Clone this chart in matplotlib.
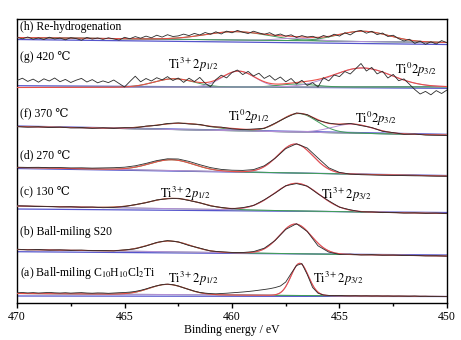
"""Stacked Ti 2p XPS spectra with fitted components."""

import numpy as np
import matplotlib

matplotlib.use("Agg")
import matplotlib.pyplot as plt


# Binding-energy grids the raw curves were read on (eV, high -> low)
energy_fine = np.linspace(470, 450, 81)     # 0.25 eV steps
energy_coarse = np.linspace(470, 450, 41)   # 0.5 eV steps

# Raw counts (offset intensity, arbitrary units), one row = 2 eV (fine) / 5 eV (coarse)
raw_a = [
    10.2, 10.5, 10.1, 10.4, 10.0, 10.3, 10.6, 10.2,
    10.0, 10.3, 9.9, 10.2, 10.4, 10.0, 9.8, 10.1,
    10.0, 9.7, 10.0, 10.3, 10.5, 10.9, 11.6, 12.7,
    14.1, 15.8, 17.2, 18.4, 18.9, 18.3, 17.0, 15.2,
    13.5, 11.9, 10.6, 9.9, 9.4, 9.2, 9.5, 9.8,
    10.2, 10.6, 11.0, 11.5, 12.1, 12.8, 13.5, 14.3,
    15.4, 17.0, 21.0, 29.5, 37.5, 39.4, 28.5, 15.5,
    9.8, 8.0, 7.6, 7.4, 7.5, 7.3, 7.2, 7.3,
    7.1, 7.2, 7.0, 7.1, 6.9, 7.0, 6.8, 6.9,
    6.8, 6.7, 6.9, 6.6, 6.7, 6.5, 6.6, 6.5,
    6.5,
]
raw_b = [
    53.8, 53.2, 53.5, 52.9, 53.1, 52.6, 52.9, 52.4, 52.5, 52.2,
    53.1, 54.2, 57.0, 60.6, 62.4, 61.1, 57.5, 54.9, 52.0, 51.2,
    50.6, 50.5, 51.4, 54.8, 62.4, 73.6, 79.3, 71.5, 57.2, 50.9,
    48.6, 48.9, 48.1, 48.4, 47.8, 47.9, 47.5, 47.6, 47.2, 47.3,
    46.9,
]
raw_c = [
    97.2, 96.9, 96.4, 96.6, 96.1, 96.3, 95.7, 95.9, 95.3, 95.6,
    96.5, 98.4, 100.3, 103.1, 104.2, 104.7, 102.5, 100.3, 97.1, 95.6,
    94.3, 95.4, 97.5, 103.2, 109.8, 117.3, 119.4, 116.9, 109.1, 102.2,
    95.8, 93.2, 91.2, 91.1, 90.4, 90.6, 90.0, 90.2, 89.7, 89.9,
    89.4,
]
raw_d = [
    135.8, 135.6, 135.7, 135.3, 135.4, 135.1, 135.2, 134.9, 135.1, 135.3,
    135.8, 137.2, 139.6, 142.4, 144.2, 144.0, 141.6, 138.3, 135.4, 133.6,
    132.8, 132.6, 133.4, 137.2, 144.6, 154.4, 159.2, 155.0, 145.0, 135.2,
    130.6, 128.9, 128.3, 128.0, 127.8, 127.6, 127.4, 127.2, 127.1, 126.9,
    126.8,
]
raw_f = [
    176.4, 175.9, 176.3, 175.5, 175.8, 175.1, 175.5, 174.7, 175.2, 174.6,
    175.3, 175.2, 176.9, 177.6, 179.5, 180.1, 179.0, 178.6, 176.3, 175.9,
    174.2, 173.4, 174.0, 174.6, 179.8, 185.2, 190.1, 188.4, 182.6, 179.9,
    178.5, 179.6, 177.4, 175.5, 171.7, 170.4, 168.7, 168.9, 168.0, 167.8,
    167.6,
]
raw_g = [
    222.5, 224.8, 221.6, 223.9, 220.8, 224.2, 222.0, 225.0,
    221.3, 223.6, 220.5, 222.8, 224.6, 221.0, 223.4, 220.2,
    222.1, 220.4, 223.0, 219.5, 216.0, 221.5, 226.8, 221.2,
    224.5, 222.0, 225.3, 223.1, 226.4, 222.5, 225.0, 220.6,
    224.8, 221.4, 225.6, 219.8, 216.2, 223.4, 227.8, 225.1,
    230.5, 233.0, 228.4, 231.6, 227.0, 229.8, 224.6, 227.5,
    222.8, 226.0, 221.2, 224.5, 219.0, 222.7, 217.5, 220.4,
    216.0, 225.3, 222.1, 228.0, 226.4, 231.5, 229.0, 234.2,
    239.5, 232.0, 235.6, 229.1, 231.8, 225.0, 228.6, 222.3,
    224.1, 218.8, 213.5, 209.0, 211.6, 208.2, 212.4, 209.5,
    213.0,
]
raw_h = [
    265.6, 264.2, 266.0, 263.8, 265.1, 263.5, 265.8, 264.0,
    264.9, 263.2, 265.3, 264.4, 262.8, 265.5, 263.9, 265.0,
    263.6, 265.2, 264.1, 262.9, 265.7, 264.3, 266.4, 264.8,
    266.9, 265.2, 267.8, 265.9, 268.3, 266.5, 267.1, 268.9,
    267.4, 269.6, 268.0, 270.5, 268.8, 271.2, 269.0, 271.9,
    270.2, 272.6, 270.8, 269.5, 271.8, 270.1, 268.7, 270.3,
    267.6, 269.0, 266.8, 268.2, 265.5, 267.4, 265.9, 266.7,
    264.8, 267.5, 266.0, 268.8, 266.9, 270.3, 268.1, 271.5,
    272.6, 269.8, 271.7, 268.4, 270.0, 266.5, 267.8, 264.3,
    262.0, 263.8, 259.6, 261.9, 258.7, 261.2, 259.0, 262.4,
    260.3,
]

# Fitted components: (centre / eV, height, FWHM / eV)
peaks_a = [(463.0, 10.2, 2.0), (456.85, 32.2, 0.95)]
peaks_b = [(462.9, 10.8, 2.3), (457.05, 29.7, 1.75)]
peaks_c = [(462.7, 10.4, 2.8), (457.0, 27.6, 2.5)]
peaks_d = [(462.8, 10.8, 2.4), (457.05, 29.0, 1.9)]
peaks_f = [(462.3, 6.5, 3.0), (459.8, 1.2, 1.5), (456.9, 18.5, 2.0), (454.4, 9.0, 2.2)]
peaks_g = [(462.7, 8.5, 2.2), (459.7, 16.0, 1.8), (457.0, 3.0, 2.0), (453.95, 19.0, 3.2)]
peaks_h = [(459.8, 8.4, 3.4), (457.0, 2.5, 2.0), (453.9, 10.3, 2.8)]

# Fit background and drawn base line: (value at 470 eV, value at 450 eV)
fit_bg = {"a": (9.5, 6.5), "b": (53.5, 47.0), "c": (97.0, 89.5), "d": (135.5, 127.0),
          "f": (176.5, 168.0), "g": (215.5, 216.2), "h": (265.5, 260.5)}
base_line = {"a": (7.0, 6.5), "b": (51.3, 48.0), "c": (94.0, 90.5), "d": (134.5, 127.5),
             "f": (177.0, 168.7), "g": (217.3, 214.7), "h": (263.5, 258.5)}

sample_labels = {
    "h": "(h) Re-hydrogenation",
    "g": "(g) 420 \u2103",
    "f": "(f) 370 \u2103",
    "d": "(d) 270 \u2103",
    "c": "(c) 130 \u2103",
    "b": "(b) Ball-miling S20",
    "a": r"(a) Ball-miling C$_{10}$H$_{10}$Cl$_2$Ti",
}


def line_between(ends, energy):
    """Straight line through the values read at 470 and 450 eV."""
    left, right = ends
    return left + (right - left) * (470.0 - energy) / 20.0


def gaussian(energy, centre, height, fwhm):
    return height * np.exp(-4.0 * np.log(2.0) * (energy - centre) ** 2 / fwhm ** 2)


def main() -> None:
    plt.rcParams["font.family"] = ["Liberation Serif", "DejaVu Serif"]
    plt.rcParams["mathtext.fontset"] = "stix"

    spectra = [
        ("a", energy_fine, raw_a, peaks_a),
        ("b", energy_coarse, raw_b, peaks_b),
        ("c", energy_coarse, raw_c, peaks_c),
        ("d", energy_coarse, raw_d, peaks_d),
        ("f", energy_coarse, raw_f, peaks_f),
        ("g", energy_fine, raw_g, peaks_g),
        ("h", energy_fine, raw_h, peaks_h),
    ]
    component_colors = ["#3f9d5a", "#b48fd6"]
    model_energy = np.linspace(470, 450, 401)

    figure = plt.figure(figsize=(4.61, 3.40), dpi=100)
    axis = figure.add_axes([0.0369, 0.1088, 0.9327, 0.8353])

    for key, energy, raw, peaks in spectra:
        base = line_between(base_line[key], model_energy)
        background = line_between(fit_bg[key], model_energy)
        axis.plot(model_energy, base, color="#5555cc", linewidth=0.9, zorder=2)
        axis.plot(model_energy, background, color="#7f9a98", linewidth=0.7, zorder=2)
        envelope = background.copy()
        for index, (centre, height, fwhm) in enumerate(peaks):
            component = gaussian(model_energy, centre, height, fwhm)
            envelope += component
            axis.plot(model_energy, background + component,
                      color=component_colors[index % 2], linewidth=0.7, zorder=3)
        axis.plot(model_energy, envelope, color="#ea5048", linewidth=0.8, zorder=4)
        axis.plot(energy, raw, color="#2a2a2a", linewidth=0.6, zorder=5)

    label_y = {"h": 276, "g": 246, "f": 189, "d": 148, "c": 111, "b": 71, "a": 30}
    for key, text in sample_labels.items():
        axis.text(469.85, label_y[key], text, fontsize=8.5, va="center", ha="left", zorder=6)

    t3_half = r"$\mathrm{Ti}^{3+}\mathrm{2}p_{1/2}$"
    t3_three = r"$\mathrm{Ti}^{3+}\mathrm{2}p_{3/2}$"
    t0_half = r"$\mathrm{Ti}^{0}\mathrm{2}p_{1/2}$"
    t0_three = r"$\mathrm{Ti}^{0}\mathrm{2}p_{3/2}$"
    annotations = [
        (462.98, 238, t3_half), (452.42, 233, t0_three),
        (460.19, 186, t0_half), (454.28, 184, t0_three),
        (463.35, 109, t3_half), (455.87, 108, t3_three),
        (462.98, 24, t3_half), (456.23, 24, t3_three),
    ]
    for x, y, text in annotations:
        axis.text(x, y, text, fontsize=9, va="center", ha="left", zorder=6)

    axis.set_xlim(470, 450)
    axis.set_ylim(0, 284)
    axis.set_yticks([])
    axis.set_xticks([470, 465, 460, 455, 450])
    axis.set_xticks([467.5, 462.5, 457.5, 452.5], minor=True)
    axis.tick_params(axis="x", which="major", direction="out", length=3.5, width=1.0,
                     labelsize=8.5, pad=2)
    axis.tick_params(axis="x", which="minor", direction="out", length=2.5, width=1.0)
    for spine in axis.spines.values():
        spine.set_linewidth(1.0)
    axis.set_xlabel("Binding energy / eV", fontsize=8.5, labelpad=1)

    figure.savefig("out.png", dpi=100)
    plt.close(figure)


if __name__ == "__main__":
    main()
